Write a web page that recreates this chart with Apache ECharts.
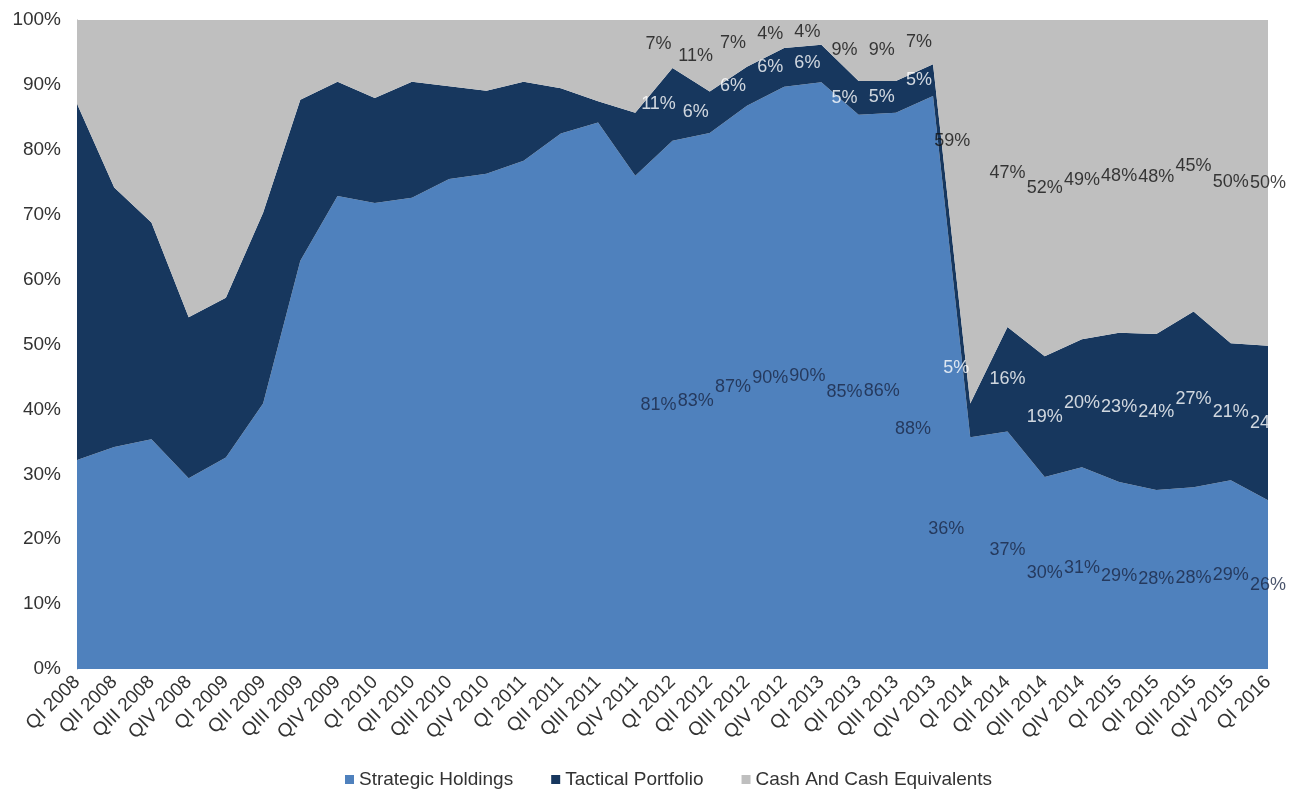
<!DOCTYPE html>
<html>
<head>
<meta charset="utf-8">
<script src="https://cdn.jsdelivr.net/npm/echarts@6/dist/echarts.min.js"></script>
<style>
  html, body { margin: 0; padding: 0; background: #fff; }
  #chart { width: 1306px; height: 795px; }
</style>
</head>
<body>
<div id="chart"></div>
<script>
const quarters = [
  "QI 2008", "QII 2008", "QIII 2008", "QIV 2008",
  "QI 2009", "QII 2009", "QIII 2009", "QIV 2009",
  "QI 2010", "QII 2010", "QIII 2010", "QIV 2010",
  "QI 2011", "QII 2011", "QIII 2011", "QIV 2011",
  "QI 2012", "QII 2012", "QIII 2012", "QIV 2012",
  "QI 2013", "QII 2013", "QIII 2013", "QIV 2013",
  "QI 2014", "QII 2014", "QIII 2014", "QIV 2014",
  "QI 2015", "QII 2015", "QIII 2015", "QIV 2015",
  "QI 2016"
];

// share of portfolio, %
const strategic = [
  32.2, 34.2, 35.4, 29.4, 32.6, 40.9, 62.9, 72.9,
  71.8, 72.6, 75.5, 76.3, 78.3, 82.5, 84.2, 76.0,
  81.4, 82.6, 86.8, 89.7, 90.4, 85.4, 85.7, 88.3,
  35.7, 36.6, 29.6, 31.1, 28.8, 27.6, 28.0, 29.1,
  26.0
];
const tactical = [
  54.9, 40.0, 33.4, 24.8, 24.6, 29.4, 24.8, 17.6,
  16.2, 17.9, 14.3, 12.8, 12.2, 7.0, 3.3, 9.7,
  11.2, 6.4, 6.0, 6.0, 5.8, 5.2, 4.9, 4.9,
  5.2, 16.1, 18.6, 19.7, 23.0, 24.0, 27.1, 21.1,
  23.8
];
const cash = [
  12.9, 25.8, 31.2, 45.8, 42.8, 29.7, 12.3, 9.5,
  12.0, 9.5, 10.2, 10.9, 9.5, 10.5, 12.5, 14.3,
  7.4, 11.0, 7.2, 4.3, 3.8, 9.4, 9.4, 6.8,
  59.1, 47.3, 51.8, 49.2, 48.2, 48.4, 44.9, 49.8,
  50.2
];
const yTicks = [0, 10, 20, 30, 40, 50, 60, 70, 80, 90, 100];

const seriesNames = ["Strategic Holdings", "Tactical Portfolio", "Cash And Cash Equivalents"];
const colors = ["#4f81bd", "#17375e", "#bfbfbf"];
const labelColors = ["#1a2745", "#ffffff", "#111111"];
const firstLabelled = 16; // labels start at QI 2012
const FONT = "Liberation Sans, Arial, sans-serif";

// hand-moved labels in the original (layer index -> data index -> [dx, dy])
const labelNudge = {
  0: { 23: [-20, 47], 24: [-24, -24] },
  1: { 24: [-14, -52] },
  2: { 24: [-18, -71] }
};

const chart = echarts.init(document.getElementById("chart"));

const layers = [strategic, tactical, cash];

// band middle for each layer, labels sit inside the areas
function bandMiddle(k) {
  return quarters.map((q, i) => {
    if (i < firstLabelled) return "-";
    let below = 0;
    for (let j = 0; j < k; j++) below += layers[j][i];
    return below + layers[k][i] / 2;
  });
}

const areaSeries = layers.map((vals, k) => ({
  name: seriesNames[k],
  type: "line",
  stack: "total",
  data: vals,
  symbol: "none",
  lineStyle: { width: 0 },
  areaStyle: { color: colors[k], opacity: 1 },
  itemStyle: { color: colors[k] },
  silent: true,
  z: 2
}));

const labelSeries = layers.map((vals, k) => ({
  name: seriesNames[k] + " label",
  type: "scatter",
  data: bandMiddle(k).map((v, i) => {
    const nudge = (labelNudge[k] && labelNudge[k][i]) || [i <= 24 ? -14 : 0, 0];
    return { value: v, label: { offset: nudge } };
  }),
  symbolSize: 1,
  itemStyle: { color: "rgba(0,0,0,0)" },
  silent: true,
  z: 5,
  label: {
    show: true,
    position: "inside",
    color: labelColors[k],
    fontFamily: FONT,
    fontSize: 18,
    formatter: (p) => Math.round(vals[p.dataIndex]) + "%"
  }
}));

const option = {
  backgroundColor: "#ffffff",
  animation: false,
  grid: { left: 77, right: 38, top: 20, bottom: 126 },
  legend: {
    data: seriesNames,
    top: 765,
    left: 340,
    icon: "rect",
    itemWidth: 9,
    itemHeight: 9,
    itemGap: 38,
    textStyle: { fontFamily: FONT, fontSize: 19, color: "#333" }
  },
  xAxis: {
    type: "category",
    data: quarters,
    boundaryGap: false,
    axisTick: { show: false },
    axisLine: { show: false },
    axisLabel: {
      interval: 0,
      rotate: 45,
      margin: 10,
      color: "#333",
      fontFamily: FONT,
      fontSize: 19
    }
  },
  yAxis: {
    type: "value",
    min: yTicks[0],
    max: yTicks[yTicks.length - 1],
    interval: 10,
    axisLine: { show: true, lineStyle: { color: "#a6a6a6" } },
    axisTick: { show: false },
    splitLine: { show: false },
    axisLabel: {
      margin: 16,
      color: "#333",
      fontFamily: FONT,
      fontSize: 19,
      formatter: "{value}%"
    }
  },
  series: [...areaSeries, ...labelSeries]
};

chart.setOption(option);
</script>
</body>
</html>
